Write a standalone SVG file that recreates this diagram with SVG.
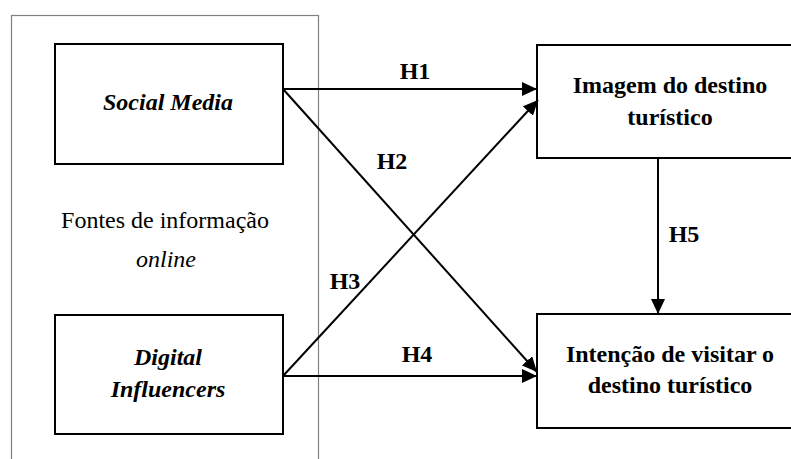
<svg xmlns="http://www.w3.org/2000/svg" width="791" height="459" viewBox="0 0 791 459" font-family="'Liberation Serif', 'Times New Roman', Times, 'DejaVu Serif', serif">
<style>
.box{fill:#fff;stroke:#000;stroke-width:2}
text{font-family:'Liberation Serif','Times New Roman',Times,'DejaVu Serif',serif;font-size:24px;fill:#000;text-anchor:middle}
.b{font-weight:bold}
.i{font-style:italic}
.c{stroke:#000;stroke-width:2;fill:none;marker-end:url(#ah)}
</style>
<defs>
<marker id="ah" markerUnits="userSpaceOnUse" markerWidth="16" markerHeight="14" refX="15" refY="7" orient="auto">
<path d="M0,0 L15,7 L0,14 z" fill="#000"/>
</marker>
</defs>
<rect width="791" height="459" fill="#fff"/>
<g id="fontes">
<rect x="11.5" y="15.5" width="307" height="460" fill="none" stroke="#808080" stroke-width="1.2"/>
<text x="165" y="228">Fontes de informação</text>
<text class="i" x="166" y="267">online</text>
</g>
<g id="social-media">
<rect class="box" x="55" y="44" width="228" height="120"/>
<text class="b i" x="168" y="110">Social Media</text>
</g>
<g id="digital-influencers">
<rect class="box" x="55" y="315" width="228" height="119"/>
<text class="b i" x="168" y="365">Digital</text>
<text class="b i" x="168" y="397">Influencers</text>
</g>
<g id="imagem">
<rect class="box" x="537" y="45" width="258" height="113"/>
<text class="b" x="670" y="93">Imagem do destino</text>
<text class="b" x="670" y="125">turístico</text>
</g>
<g id="intencao">
<rect class="box" x="537" y="314" width="258" height="114"/>
<text class="b" x="670" y="362">Intenção de visitar o</text>
<text class="b" x="670" y="393">destino turístico</text>
</g>
<g id="connectors">
<line class="c" x1="283" y1="89" x2="537" y2="89"/>
<line class="c" x1="283" y1="89" x2="537" y2="372"/>
<line class="c" x1="283" y1="376" x2="538" y2="100"/>
<line class="c" x1="283" y1="376" x2="537" y2="376"/>
<line class="c" x1="658" y1="158" x2="658" y2="314"/>
<text class="b" x="415" y="79">H1</text>
<text class="b" x="392" y="169">H2</text>
<text class="b" x="345" y="289">H3</text>
<text class="b" x="417" y="362">H4</text>
<text class="b" x="684" y="242">H5</text>
</g>
</svg>
